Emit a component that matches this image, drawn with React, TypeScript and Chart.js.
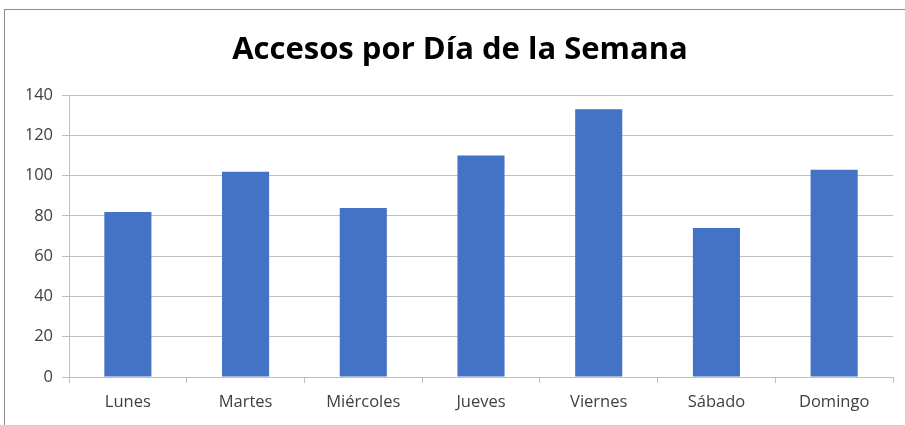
import React, { useEffect, useRef } from "react";
import { Chart, registerables } from "chart.js";

Chart.register(...registerables);

const categories = ["Lunes", "Martes", "Miércoles", "Jueves", "Viernes", "Sábado", "Domingo"];
const accesos = [82, 102, 84, 110, 133, 74, 103];
const yTicks = [0, 20, 40, 60, 80, 100, 120, 140];
const titleText = "Accesos por Día de la Semana";

export default function App() {
  const ref = useRef<HTMLCanvasElement | null>(null);

  useEffect(() => {
    if (!ref.current) return;
    const chart = new Chart(ref.current, {
      type: "bar",
      data: {
        labels: categories,
        datasets: [
          {
            label: "Accesos",
            data: accesos,
            backgroundColor: "#4472C4",
            barPercentage: 0.4,
            categoryPercentage: 1,
          },
        ],
      },
      options: {
        responsive: false,
        animation: false,
        devicePixelRatio: 1,
        layout: { padding: { left: 27, right: 12, top: 0, bottom: 0 } },
        plugins: {
          legend: { display: false },
          tooltip: { enabled: false },
          title: {
            display: true,
            text: titleText,
            color: "#000000",
            font: { family: "Open Sans", size: 31, weight: "bold", lineHeight: 1.2 },
            padding: { top: 32, bottom: 26 },
          },
        },
        scales: {
          x: {
            offset: true,
            grid: {
              offset: true,
              drawOnChartArea: false,
              drawTicks: true,
              tickLength: 6,
              color: "#bfbfbf",
            },
            border: { display: true, color: "#bfbfbf", width: 1 },
            ticks: {
              color: "#404040",
              font: { family: "Open Sans", size: 16.5 },
              padding: 9,
              maxRotation: 0,
            },
            afterFit: (scale: any) => {
              scale.height = 48;
            },
          },
          y: {
            min: 0,
            max: 140,
            afterBuildTicks: (scale: any) => {
              scale.ticks = yTicks.map((v) => ({ value: v }));
            },
            grid: {
              color: "#bfbfbf",
              drawTicks: true,
              tickLength: 7,
            },
            border: { display: true, color: "#bfbfbf", width: 1 },
            ticks: {
              color: "#404040",
              font: { family: "Open Sans", size: 16.5 },
              padding: 9,
            },
            afterFit: (scale: any) => {
              scale.width = 42;
            },
          },
        },
      },
    });
    return () => chart.destroy();
  }, []);

  return (
    <div style={{ position: "fixed", left: 0, top: 0, width: 905, height: 425, background: "#ffffff", overflow: "hidden" }}>
      <div
        style={{
          position: "absolute",
          left: 4,
          top: 9,
          width: 960,
          height: 480,
          border: "1px solid #8c8c8c",
          boxSizing: "border-box",
        }}
      />
      <canvas ref={ref} width={905} height={425} style={{ position: "absolute", left: 0, top: 0, width: 905, height: 425 }} />
    </div>
  );
}
